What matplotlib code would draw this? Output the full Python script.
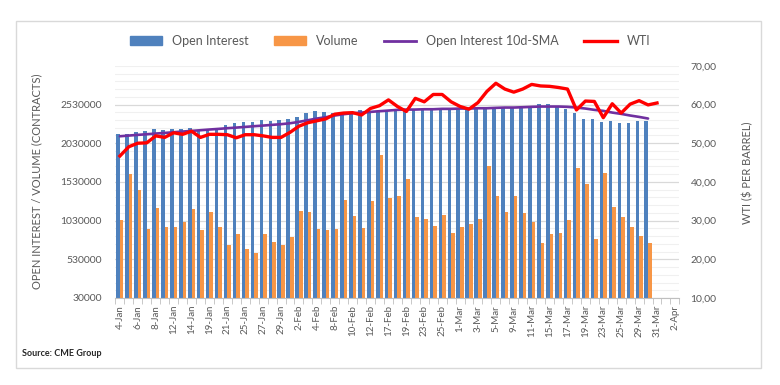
import matplotlib
matplotlib.use('Agg')
import matplotlib.pyplot as plt
from matplotlib.patches import Rectangle, Patch
from matplotlib.lines import Line2D
from matplotlib.ticker import FixedLocator
import numpy as np

plt.rcParams['font.family'] = ['Lato', 'DejaVu Sans']

# trading days shown on the category axis (data stops before the last ones)
dates = ['4-Jan', '5-Jan', '6-Jan', '7-Jan', '8-Jan', '11-Jan', '12-Jan', '13-Jan', '14-Jan', '15-Jan',
         '19-Jan', '20-Jan', '21-Jan', '22-Jan', '25-Jan', '26-Jan', '27-Jan', '28-Jan', '29-Jan',
         '1-Feb', '2-Feb', '3-Feb', '4-Feb', '5-Feb', '8-Feb', '9-Feb', '10-Feb', '11-Feb', '12-Feb',
         '16-Feb', '17-Feb', '18-Feb', '19-Feb', '22-Feb', '23-Feb', '24-Feb', '25-Feb', '26-Feb',
         '1-Mar', '2-Mar', '3-Mar', '4-Mar', '5-Mar', '8-Mar', '9-Mar', '10-Mar', '11-Mar', '12-Mar',
         '15-Mar', '16-Mar', '17-Mar', '18-Mar', '19-Mar', '22-Mar', '23-Mar', '24-Mar', '25-Mar',
         '26-Mar', '29-Mar', '30-Mar', '31-Mar', '1-Apr', '2-Apr']

open_interest = [2155000, 2155000, 2172000, 2185000, 2220000, 2207000, 2220000, 2220000,
                 2224000, 2205000, 2207000, 2233000, 2271000, 2288000, 2301000, 2301000,
                 2332000, 2323000, 2336000, 2349000, 2375000, 2426000, 2452000, 2439000,
                 2426000, 2439000, 2439000, 2465000, 2439000, 2448000, 2461000, 2461000,
                 2460000, 2455000, 2462000, 2458000, 2465000, 2468000, 2470000, 2472000,
                 2475000, 2478000, 2476000, 2485000, 2488000, 2495000, 2500000, 2538000,
                 2534000, 2504000, 2469000, 2418000, 2349000, 2340000, 2310000, 2323000,
                 2297000, 2297000, 2314000, 2314000]

volume = [1043000, 1638000, 1431000, 922000, 1198000, 952000, 952000, 1017000,
          1181000, 914000, 1146000, 952000, 720000, 853000, 668000, 608000,
          853000, 758000, 720000, 823000, 1159000, 1146000, 922000, 914000,
          922000, 1301000, 1086000, 939000, 1284000, 1883000, 1327000, 1345000,
          1564000, 1081000, 1056000, 965000, 1099000, 875000, 952000, 991000,
          1056000, 1732000, 1345000, 1146000, 1345000, 1133000, 1017000, 737000,
          853000, 866000, 1043000, 1715000, 1508000, 797000, 1651000, 1211000,
          1082000, 952000, 836000, 745000]

oi_sma = [2120000, 2129000, 2138000, 2146000, 2155000, 2163000, 2172000, 2181000,
          2189000, 2198000, 2207000, 2215000, 2224000, 2232000, 2241000, 2250000,
          2258000, 2267000, 2276000, 2288000, 2306000, 2327000, 2349000, 2366000,
          2388000, 2405000, 2418000, 2426000, 2435000, 2444000, 2452000, 2461000,
          2465000, 2465000, 2469000, 2469000, 2474000, 2474000, 2478000, 2478000,
          2482000, 2482000, 2487000, 2491000, 2491000, 2495000, 2500000, 2504000,
          2504000, 2504000, 2500000, 2491000, 2478000, 2461000, 2448000, 2426000,
          2409000, 2388000, 2370000, 2349000]

wti = [46.7, 49.1, 50.0, 50.1, 51.9, 51.5, 52.7, 52.3, 53.1, 51.5, 52.3, 52.3, 52.2, 51.4, 52.2, 52.2,
       51.9, 51.5, 51.5, 52.8, 54.4, 55.3, 55.8, 56.3, 57.5, 57.8, 57.9, 57.3, 59.0, 59.7, 61.2, 59.5,
       58.2, 61.6, 60.7, 62.6, 62.6, 60.7, 59.5, 58.8, 60.5, 63.4, 65.5, 64.0, 63.2, 64.0, 65.2, 64.8,
       64.7, 64.4, 64.0, 58.6, 60.9, 60.8, 56.6, 60.2, 57.8, 60.1, 61.0, 59.9, 60.4]

oi_ticks = [30000, 530000, 1030000, 1530000, 2030000, 2530000]
wti_ticks = [10, 20, 30, 40, 50, 60, 70]

BLUE = '#4F81BD'
ORANGE = '#F79646'
PURPLE = '#7030A0'
RED = '#FF0000'
TXT = '#595959'

fig = plt.figure(figsize=(7.8, 3.85), dpi=100)
ax = fig.add_axes([0.148, 0.226, 0.723, 0.603])

x = np.arange(len(open_interest))
bw = 0.4
ax.bar(x - 0.2, open_interest, width=bw, color=BLUE, zorder=2)
ax.bar(x + 0.2, volume, width=bw, color=ORANGE, zorder=2)
ax.plot(x, oi_sma, color=PURPLE, lw=1.9, zorder=3, solid_capstyle='round')

ax.set_xlim(-0.5, len(dates) - 0.5)
ax.set_ylim(30000, 3030000)
ax.set_yticks(oi_ticks)
ax.set_yticklabels([str(t) for t in oi_ticks])
# light minor gridlines every 100000 between the labelled ones
ax.yaxis.set_minor_locator(FixedLocator(np.arange(30000, 3030001, 100000)))
ax.grid(axis='y', which='major', color='#d9d9d9', lw=0.9, zorder=0)
ax.grid(axis='y', which='minor', color='#f0f0f0', lw=0.8, zorder=0)
ax.set_axisbelow(True)

ax.set_xticks(np.arange(0, len(dates), 2))
ax.set_xticklabels(dates[::2], rotation=90, fontsize=7, color=TXT)
ax.xaxis.set_minor_locator(FixedLocator(np.arange(-0.5, len(dates), 1)))
ax.tick_params(axis='x', which='major', length=0, pad=5)
ax.tick_params(axis='x', which='minor', length=4, color='#bfbfbf')
ax.tick_params(axis='y', which='both', length=0, labelsize=7.5, labelcolor=TXT, pad=10)

for s in ['top', 'left', 'right']:
    ax.spines[s].set_visible(False)
ax.spines['bottom'].set_color('#bfbfbf')

ax2 = ax.twinx()
ax2.plot(np.arange(len(wti)), wti, color=RED, lw=2.4, zorder=4, solid_joinstyle='round')
ax2.set_ylim(10, 70)
ax2.set_yticks(wti_ticks)
ax2.set_yticklabels(['{:.2f}'.format(t).replace('.', ',') for t in wti_ticks])
ax2.tick_params(axis='y', length=0, labelsize=7.5, labelcolor=TXT, pad=8)
for s in ax2.spines.values():
    s.set_visible(False)

fig.text(0.047, 0.53, 'OPEN INTEREST / VOLUME (CONTRACTS)', rotation=90, ha='center', va='center',
         fontsize=8, color=TXT)
fig.text(0.958, 0.55, 'WTI ($ PER BARREL)', rotation=90, ha='center', va='center',
         fontsize=8, color=TXT)
fig.text(0.028, 0.075, 'Source: CME Group', fontsize=6.5, fontweight='bold', color='#262626')

handles = [Patch(color=BLUE), Patch(color=ORANGE),
           Line2D([], [], color=PURPLE, lw=2), Line2D([], [], color=RED, lw=2.4)]
labels = ['Open Interest', 'Volume', 'Open Interest 10d-SMA', 'WTI']
fig.legend(handles, labels, loc='center', bbox_to_anchor=(0.5, 0.893), ncol=4, frameon=False,
           fontsize=9, labelcolor=TXT, handlelength=2.6, handleheight=0.7, columnspacing=2.0)

fig.add_artist(Rectangle((16 / 780, 1 - 368 / 385), 745 / 780, 347 / 385, transform=fig.transFigure,
                         fill=False, edgecolor='#d9d9d9', lw=1))

fig.savefig('out.png', dpi=100)
